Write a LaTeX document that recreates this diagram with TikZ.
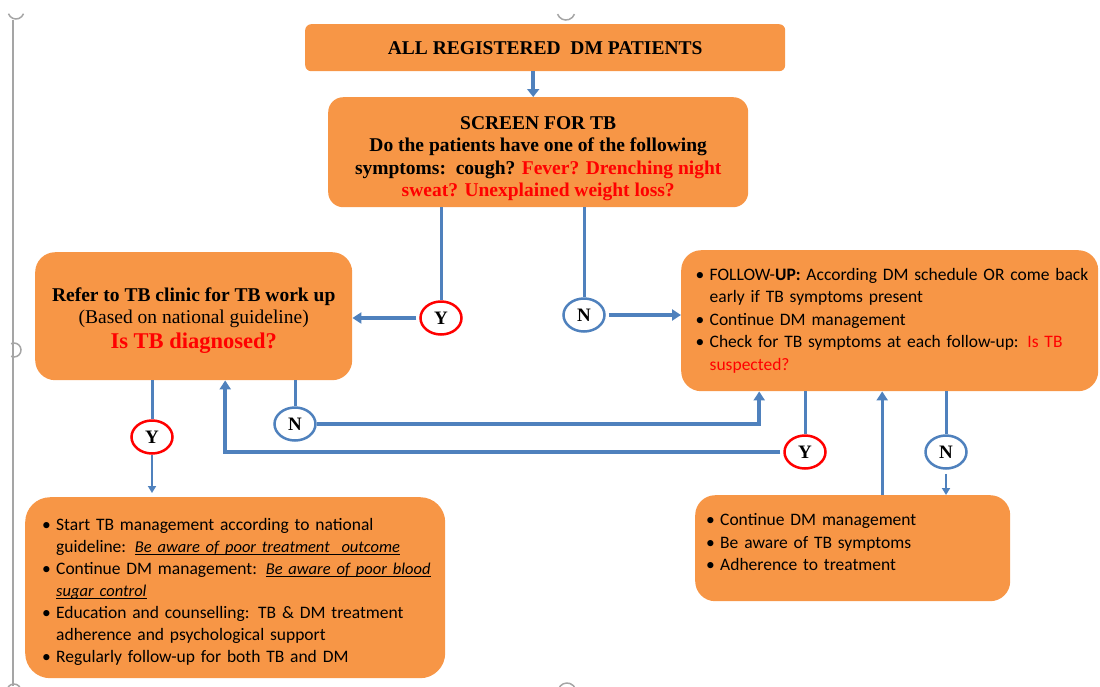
\documentclass[tikz,border=0pt]{standalone}
\usepackage{fontspec}
\setmainfont{Liberation Serif}
\newfontfamily\calibri{Carlito}
\usetikzlibrary{arrows.meta,shapes.geometric}

\definecolor{boxorange}{RGB}{247,150,70}
\definecolor{flowblue}{RGB}{79,129,189}
\definecolor{askred}{RGB}{255,0,0}
\definecolor{canvasgray}{RGB}{165,165,165}

\newlength\awarelen
\newcommand\bitem{\makebox[20pt][l]{\hspace{6pt}\textbullet}}
\newcommand\bcont{\hspace*{20pt}}
\newcommand\aware[1]{{\fontsize{16.5}{22}\selectfont
  \settowidth\awarelen{\emph{#1}}%
  \rlap{\rule[-2.5pt]{\awarelen}{1pt}}\emph{#1}}}
% extra head room on a first line, to push a block down
\newcommand\headroom[1]{\rule{0pt}{#1}}

\begin{document}
\begin{tikzpicture}[x=1pt,y=-1pt,
    main box/.style={fill=boxorange,inner sep=0pt,anchor=north west,
                     rounded corners=#1,align=center,
                     font=\bfseries\fontsize{19.5}{22.5}\selectfont},
    main box/.default=18pt,
    list box/.style={main box=#1,align=left,
                     font=\calibri\fontsize{17.5}{22.5}\selectfont},
    list box/.default=20pt,
    yes node/.style={ellipse,draw=askred,fill=white,line width=2.5pt,
                     minimum width=41pt,minimum height=33pt,inner sep=0pt,
                     font=\bfseries\fontsize{19}{19}\selectfont},
    no node/.style={yes node,draw=flowblue},
    flow/.style={draw=flowblue,line width=3pt},
    arr/.style={flow,-{Triangle[width=11pt,length=9pt]}},
    handle/.style={canvasgray,line width=1.5pt}]

  \useasboundingbox (0,0) rectangle (1100,686);

  % canvas frame and handles
  \draw[handle] (13,20) -- (13,686);
  \draw[handle] (16,11) ++(160:8) arc[start angle=160,end angle=20,radius=8];
  \draw[handle] (566,11) ++(160:9) arc[start angle=160,end angle=20,radius=9];
  \draw[handle] (14,350) ++(-115:7) arc[start angle=-115,end angle=115,radius=7];
  \draw[handle] (567,692) ++(200:9) arc[start angle=200,end angle=340,radius=9];
  \draw[handle] (14,691) ++(200:7) arc[start angle=200,end angle=340,radius=7];

  % boxes
  \node[main box=6pt,minimum width=480pt,minimum height=47pt] (all) at (305,24)
       {ALL REGISTERED\ \ DM PATIENTS};
  \node[main box=15pt,minimum width=420pt,minimum height=110pt] (screen) at (328,97)
       {\headroom{26pt}SCREEN FOR TB\\
        Do the patients have one of the following\\
        symptoms:\ \ cough? \textcolor{askred}{Fever? Drenching night}\\
        \textcolor{askred}{sweat? Unexplained weight loss?}};
  \node[main box=20pt,minimum width=317pt,minimum height=128pt] (refer) at (35,252)
       {\headroom{22pt}Refer to TB clinic for TB work up\\
        {\mdseries (Based on national guideline)}\\[2pt]
        {\color{askred}\fontsize{22.5}{25}\selectfont Is TB diagnosed?}};
  \node[list box,text width=400pt,minimum width=417pt,minimum height=141pt] (follow) at (681,250)
       {\bitem FOLLOW-\textbf{UP:} According DM schedule OR come back\\
        \bcont early if TB symptoms present\\
        \bitem Continue DM management\\
        \bitem Check for TB symptoms at each follow-up: \textcolor{askred}{Is TB}\\
        \bcont\textcolor{askred}{suspected?}};
  \node[list box=25pt,text width=398pt,minimum width=420pt,minimum height=181pt,
        font=\calibri\fontsize{17.5}{22}\selectfont] (start) at (25,497)
       {\headroom{21pt}\bitem Start TB management according to national\\
        \bcont guideline: \aware{Be aware of poor treatment\ \ outcome}\\
        \mbox{\bitem Continue DM management: \aware{Be aware of poor blood}}\\
        \bcont\aware{sugar control}\\
        \bitem Education and counselling: TB \& DM treatment\\
        \bcont adherence and psychological support\\
        \bitem Regularly follow-up for both TB and DM};
  \node[list box,text width=305pt,minimum width=315pt,minimum height=106pt] (keep) at (695,495)
       {\bitem Continue DM management\\
        \bitem Be aware of TB symptoms\\
        \bitem Adherence to treatment\\[-10pt]
        \mbox{}};

  % decisions
  \node[yes node] (yesA) at (441,318) {Y};
  \node[no node]  (noA)  at (584,315) {N};
  \node[yes node] (yesB) at (152,437) {Y};
  \node[no node]  (noB)  at (295,424) {N};
  \node[yes node] (yesC) at (805,452) {Y};
  \node[no node]  (noC)  at (946,452) {N};

  % connectors
  \draw[arr,line width=4pt,-{Triangle[width=12pt,length=8pt]}]
       ([xshift=-12pt]all.south) -- ([xshift=-5pt]screen.north);

  \draw[flow] (screen.south -| yesA) -- (yesA.north);
  \draw[arr,line width=3.5pt] ([xshift=-3pt]yesA.west) -- (refer.east |- yesA);
  \draw[flow] (screen.south -| noA) -- (noA.north);
  \draw[arr,line width=3.5pt] ([xshift=3pt]noA.east) -- (follow.west |- noA);

  \draw[flow] (refer.south -| yesB) -- (yesB.north);
  \draw[arr,line width=2.5pt,-{Triangle[width=8pt,length=7pt]}]
       (yesB.south) -- ([yshift=4pt]start.north -| yesB);
  \draw[flow] (refer.south -| noB) -- (noB.north);
  \draw[arr,line width=3.5pt] (noB.east) -| ([xshift=-130.5pt]follow.south);

  \draw[flow] (follow.south -| yesC) -- (yesC.north);
  \draw[arr,line width=3.5pt] ([xshift=-3pt]yesC.west) -| ([xshift=31.5pt]refer.south);
  \draw[flow] (follow.south -| noC) -- (noC.north);
  \draw[arr,line width=2.5pt,-{Triangle[width=8pt,length=7pt]}]
       ([yshift=-4pt]noC.south) -- (keep.north -| noC);
  \draw[arr] ([xshift=29.5pt]keep.north) -- ([xshift=29.5pt]keep.north |- follow.south);

\end{tikzpicture}
\end{document}
